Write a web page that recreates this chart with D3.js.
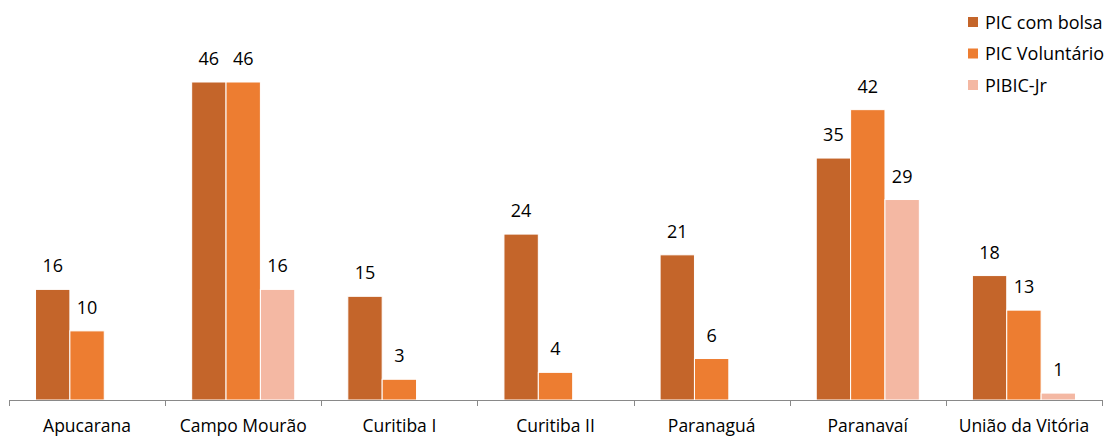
<!DOCTYPE html>
<html><head><meta charset="utf-8">
<script src="https://cdn.jsdelivr.net/npm/d3@7/dist/d3.min.js"></script>
<style>body{margin:0;background:#fff}svg{display:block}text{font-family:"Open Sans",sans-serif;fill:#000}</style>
</head><body><svg id="c" width="1111" height="436"></svg>
<script>
const categories = ["Apucarana","Campo Mourão","Curitiba I","Curitiba II","Paranaguá","Paranavaí","União da Vitória"];
const seriesNames = ["PIC com bolsa","PIC Voluntário","PIBIC-Jr"];
const picBolsa = [16,46,15,24,21,35,18];
const picVoluntario = [10,46,3,4,6,42,13];
const pibicJr = [0,16,0,0,0,29,1];
const colors = ["#C4652A","#ED7D31","#F4B8A3"];

const series = [picBolsa, picVoluntario, pibicJr];
const svg = d3.select("#c");
const x0 = d3.scaleBand().domain(categories).range([9,1102]).paddingInner(0).paddingOuter(0);
const inner = 103/156;
const x1 = d3.scaleBand().domain(d3.range(3)).range([0, x0.bandwidth()]).paddingOuter((1-inner)/ (inner/3) /2 ).paddingInner(0);
const y = d3.scaleLinear().domain([0,46]).range([400,82]);

const g = svg.append("g");
categories.forEach((c,i)=>{
  series.forEach((s,j)=>{
    const v = s[i];
    if(!v) return;
    const bx = x0(c)+x1(j), bw = x1.bandwidth();
    g.append("rect").attr("x",bx).attr("y",y(v)).attr("width",bw).attr("height",400-y(v))
      .attr("fill",colors[j]).attr("stroke","#fff").attr("stroke-width",1);
    g.append("text").attr("x",bx+bw/2).attr("y",y(v)-17).attr("text-anchor","middle")
      .style("font-size","18px").text(v);
  });
});

// axis
const ax = svg.append("g");
ax.append("line").attr("x1",9).attr("x2",1102).attr("y1",400.5).attr("y2",400.5).attr("stroke","#898989");
const bounds = categories.map(c=>x0(c)).concat([x0.range()[1]]);
bounds.forEach(b=>{
  ax.append("line").attr("x1",Math.round(b)+0.5).attr("x2",Math.round(b)+0.5).attr("y1",400).attr("y2",406).attr("stroke","#898989");
});
categories.forEach(c=>{
  ax.append("text").attr("x",x0(c)+x0.bandwidth()/2).attr("y",432).attr("text-anchor","middle")
    .style("font-size","17.5px").text(c);
});

// legend
const lg = svg.append("g");
seriesNames.forEach((n,i)=>{
  const yy = 22 + i*31.5;
  lg.append("rect").attr("x",968).attr("y",yy-5).attr("width",10).attr("height",10).attr("fill",colors[i]);
  lg.append("text").attr("x",985).attr("y",yy+6.5).style("font-size","18px").text(n);
});
</script></body></html>
